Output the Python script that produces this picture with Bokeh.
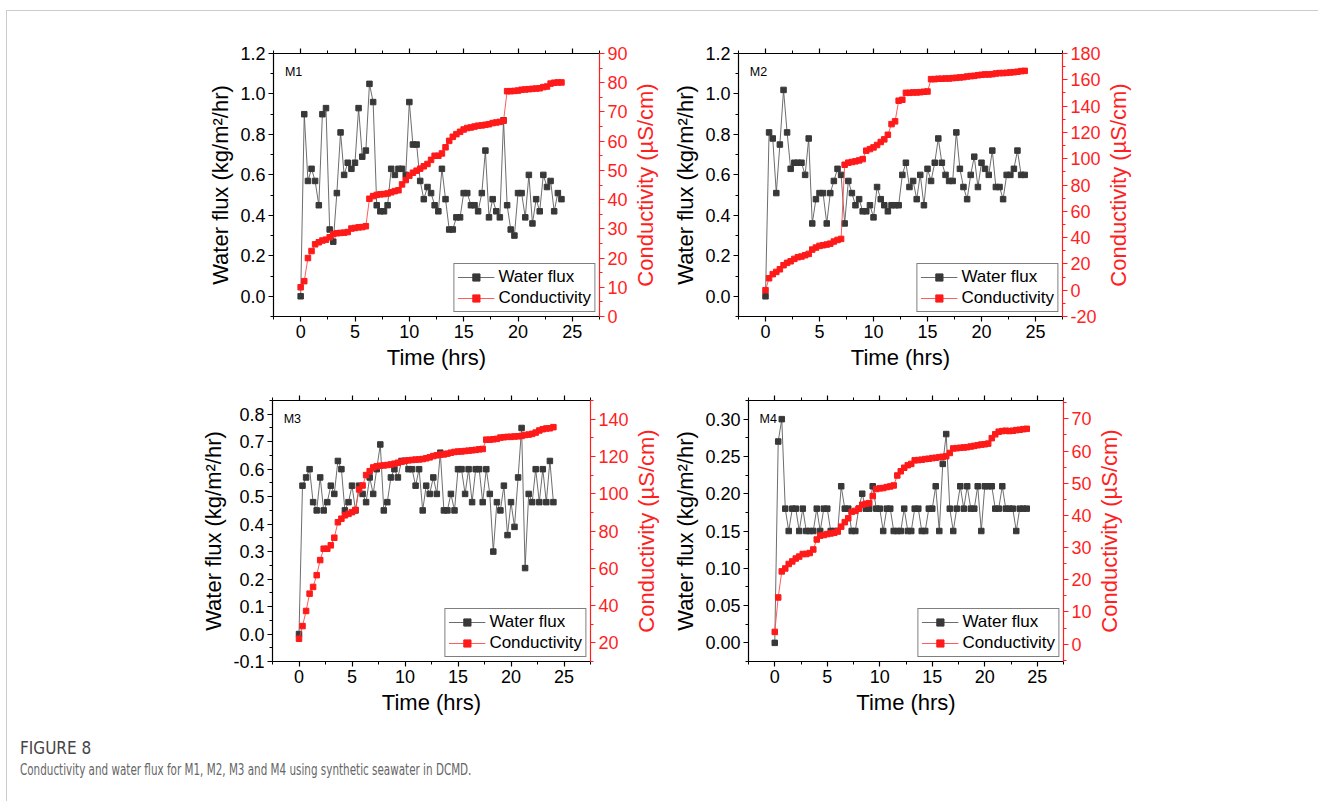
import math
from bokeh.plotting import figure
from bokeh.models import (Range1d, LinearAxis, FixedTicker, PrintfTickFormatter,
                          Legend, LegendItem, Label, Div, Title)
from bokeh.layouts import column, row
from bokeh.embed import file_html
from bokeh.resources import INLINE

# ---------------- data ----------------
time_hrs = [0.00, 0.33, 0.67, 1.00, 1.33, 1.67, 2.00, 2.33, 2.67, 3.00, 3.33, 3.67,
            4.00, 4.33, 4.67, 5.00, 5.33, 5.67, 6.00, 6.33, 6.67, 7.00, 7.33, 7.67,
            8.00, 8.33, 8.67, 9.00, 9.33, 9.67, 10.00, 10.33, 10.67, 11.00, 11.33, 11.67,
            12.00, 12.33, 12.67, 13.00, 13.33, 13.67, 14.00, 14.33, 14.67, 15.00, 15.33, 15.67,
            16.00, 16.33, 16.67, 17.00, 17.33, 17.67, 18.00, 18.33, 18.67, 19.00, 19.33, 19.67,
            20.00, 20.33, 20.67, 21.00, 21.33, 21.67, 22.00, 22.33, 22.67, 23.00, 23.33, 23.67,
            24.00]

m1_flux = [0.00, 0.90, 0.57, 0.63, 0.57, 0.45, 0.90, 0.93, 0.33, 0.27, 0.51, 0.81, 0.60,
           0.66, 0.63, 0.66, 0.93, 0.69, 0.72, 1.05, 0.96, 0.45, 0.42, 0.42, 0.45, 0.63,
           0.60, 0.63, 0.63, 0.60, 0.96, 0.75, 0.75, 0.57, 0.48, 0.54, 0.51, 0.45, 0.42,
           0.63, 0.48, 0.33, 0.33, 0.39, 0.39, 0.51, 0.51, 0.45, 0.45, 0.42, 0.51, 0.72,
           0.39, 0.48, 0.42, 0.39, 0.87, 0.45, 0.33, 0.30, 0.51, 0.51, 0.39, 0.60, 0.36,
           0.48, 0.42, 0.60, 0.54, 0.57, 0.42, 0.51, 0.48]
m1_cond = [10.0, 12.1, 20.0, 22.4, 24.7, 25.4, 26.0, 26.3, 27.1, 28.2, 28.5, 28.6, 28.7,
           28.9, 30.1, 30.3, 30.5, 30.6, 30.9, 40.3, 41.2, 41.6, 41.8, 41.9, 42.1, 42.5,
           42.9, 43.2, 45.2, 46.7, 48.2, 49.2, 49.9, 50.6, 51.4, 52.2, 53.6, 55.0, 55.0,
           55.8, 57.9, 60.1, 61.5, 62.4, 63.2, 64.0, 64.5, 64.7, 65.0, 65.3, 65.4, 65.6,
           65.8, 66.2, 66.4, 66.6, 67.0, 77.1, 77.1, 77.2, 77.3, 77.6, 77.7, 77.8, 77.9,
           78.0, 78.1, 78.5, 78.7, 79.7, 80.0, 80.1, 80.1]

m2_flux = [0.00, 0.81, 0.78, 0.51, 0.75, 1.02, 0.81, 0.63, 0.66, 0.66, 0.66, 0.60, 0.78,
           0.36, 0.48, 0.51, 0.51, 0.36, 0.51, 0.57, 0.63, 0.60, 0.36, 0.57, 0.51, 0.45,
           0.48, 0.42, 0.42, 0.45, 0.39, 0.54, 0.48, 0.45, 0.42, 0.45, 0.45, 0.45, 0.60,
           0.66, 0.54, 0.57, 0.48, 0.60, 0.45, 0.63, 0.57, 0.66, 0.78, 0.66, 0.60, 0.57,
           0.57, 0.81, 0.63, 0.54, 0.48, 0.60, 0.69, 0.54, 0.66, 0.63, 0.60, 0.72, 0.54,
           0.54, 0.48, 0.60, 0.60, 0.63, 0.72, 0.60, 0.60]
m2_cond = [0.0, 9.1, 12.2, 13.9, 15.9, 19.0, 20.8, 22.0, 23.8, 25.1, 25.6, 26.6, 27.6,
           30.9, 32.4, 33.7, 34.2, 34.7, 35.4, 37.0, 38.2, 39.0, 95.4, 97.0, 97.5, 98.0,
           98.7, 99.7, 106.1, 107.3, 108.6, 110.4, 112.7, 114.7, 118.2, 126.3, 128.4,
           144.1, 144.8, 150.1, 150.1, 150.4, 150.4, 150.6, 150.9, 151.1, 160.5, 160.5,
           160.8, 160.8, 161.0, 161.0, 161.3, 161.5, 161.8, 162.0, 162.5, 162.8, 163.0,
           163.5, 163.8, 164.1, 164.1, 164.3, 164.8, 165.1, 165.1, 165.3, 165.6, 165.8,
           166.1, 166.6, 166.8]

m3_flux = [0.00, 0.54, 0.57, 0.60, 0.48, 0.45, 0.57, 0.45, 0.48, 0.54, 0.51, 0.63, 0.60,
           0.45, 0.48, 0.54, 0.45, 0.54, 0.51, 0.48, 0.57, 0.51, 0.60, 0.69, 0.45, 0.48,
           0.57, 0.60, 0.57, 0.63, 0.63, 0.60, 0.60, 0.54, 0.60, 0.45, 0.54, 0.51, 0.57,
           0.51, 0.66, 0.45, 0.45, 0.51, 0.45, 0.60, 0.60, 0.51, 0.60, 0.48, 0.60, 0.60,
           0.48, 0.60, 0.51, 0.30, 0.48, 0.45, 0.54, 0.36, 0.48, 0.39, 0.57, 0.75, 0.24,
           0.51, 0.48, 0.60, 0.48, 0.60, 0.48, 0.63, 0.48]
m3_cond = [22.2, 29.0, 37.1, 46.4, 50.0, 56.3, 64.4, 70.5, 70.5, 72.3, 76.4, 84.7, 86.6,
           88.4, 89.2, 90.1, 91.3, 102.3, 104.4, 110.0, 112.1, 114.1, 114.7, 115.0, 115.2,
           115.4, 115.7, 116.1, 116.6, 117.2, 117.7, 117.9, 118.1, 118.3, 118.4, 118.6,
           119.0, 119.5, 120.2, 120.6, 121.0, 121.1, 121.5, 122.0, 122.4, 122.6, 122.7,
           122.9, 123.1, 123.3, 123.5, 123.8, 124.0, 129.0, 129.0, 129.2, 129.4, 130.1,
           130.3, 130.5, 130.5, 130.7, 130.8, 131.0, 131.5, 131.7, 132.1, 132.8, 133.9,
           134.6, 135.0, 135.1, 135.7]

m4_flux = [0.00, 0.27, 0.30, 0.18, 0.15, 0.18, 0.18, 0.15, 0.18, 0.15, 0.15, 0.15, 0.18,
           0.15, 0.18, 0.18, 0.15, 0.15, 0.15, 0.21, 0.18, 0.18, 0.15, 0.15, 0.18, 0.20,
           0.18, 0.18, 0.21, 0.18, 0.18, 0.15, 0.18, 0.18, 0.15, 0.15, 0.15, 0.18, 0.15,
           0.15, 0.18, 0.18, 0.15, 0.15, 0.18, 0.18, 0.21, 0.15, 0.24, 0.28, 0.18, 0.15,
           0.18, 0.21, 0.18, 0.21, 0.18, 0.18, 0.21, 0.15, 0.21, 0.21, 0.21, 0.18, 0.18,
           0.21, 0.18, 0.18, 0.18, 0.15, 0.18, 0.18, 0.18]
m4_cond = [3.8, 14.5, 22.6, 23.5, 24.9, 25.7, 26.6, 27.2, 28.0, 28.0, 28.3, 29.4, 32.5,
           33.7, 33.9, 34.2, 34.4, 34.6, 35.0, 36.5, 37.9, 39.1, 41.1, 41.4, 42.1, 43.3,
           43.6, 43.8, 46.0, 48.2, 48.4, 48.5, 48.8, 49.0, 49.3, 52.4, 53.7, 54.8, 55.6,
           56.0, 57.1, 57.2, 57.3, 57.5, 57.6, 57.8, 57.9, 58.1, 58.2, 58.4, 59.4, 60.8,
           60.9, 61.0, 61.1, 61.2, 61.4, 61.6, 61.8, 62.0, 62.1, 62.3, 64.0, 65.2, 66.0,
           66.2, 66.3, 66.2, 66.3, 66.5, 66.6, 66.8, 66.9]

# tick labels
x_ticks = [0, 5, 10, 15, 20, 25]
flux_ticks_12 = [0.0, 0.2, 0.4, 0.6, 0.8, 1.0, 1.2]
flux_ticks_m3 = [-0.1, 0.0, 0.1, 0.2, 0.3, 0.4, 0.5, 0.6, 0.7, 0.8]
flux_ticks_m4 = [0.00, 0.05, 0.10, 0.15, 0.20, 0.25, 0.30]
cond_ticks_m1 = [0, 10, 20, 30, 40, 50, 60, 70, 80, 90]
cond_ticks_m2 = [-20, 0, 20, 40, 60, 80, 100, 120, 140, 160, 180]
cond_ticks_m3 = [20, 40, 60, 80, 100, 120, 140]
cond_ticks_m4 = [0, 10, 20, 30, 40, 50, 60, 70]

# ---------------- styling ----------------
FONT = "Liberation Sans"
BLACK = "#000000"
RED = "#ff1f1f"
X_RANGE = (-2.5, 27.5)
R_TITLE = "Conductivity (µS/cm)"


def minors(ticks, lo, hi):
    step = ticks[1] - ticks[0]
    out = []
    v = ticks[0] - step / 2.0
    while v >= lo - 1e-9:
        out.append(v)
        v -= step
    v = ticks[0] + step / 2.0
    while v <= hi + 1e-9:
        out.append(v)
        v += step
    return sorted(out)


def style_axis(ax, color, title=None):
    ax.axis_line_color = color
    ax.axis_line_width = 1.2
    ax.major_tick_line_color = color
    ax.minor_tick_line_color = color
    ax.major_tick_line_width = 1.2
    ax.minor_tick_line_width = 1
    ax.major_tick_out = 5
    ax.major_tick_in = 0
    ax.minor_tick_out = 3
    ax.minor_tick_in = 0
    ax.major_label_text_font = FONT
    ax.major_label_text_font_size = "18px"
    ax.major_label_text_color = color
    ax.major_label_standoff = 3
    if title is not None:
        ax.axis_label = title
        ax.axis_label_text_font = FONT
        ax.axis_label_text_font_size = "22px"
        ax.axis_label_text_font_style = "normal"
        ax.axis_label_text_color = color
        ax.axis_label_standoff = 4


def title_strip(width, height, bt, bb, shift_up):
    """Narrow companion holding the right-hand axis title, reading bottom-to-top."""
    t = figure(width=width, height=height, output_backend="svg", toolbar_location=None,
               x_axis_type=None, y_axis_type=None, title=None,
               min_border_left=0, min_border_right=0, min_border_top=bt, min_border_bottom=bb)
    t.outline_line_color = None
    t.background_fill_color = "white"
    t.border_fill_color = "white"
    t.add_layout(Title(text=R_TITLE, align="center", offset=shift_up,
                       text_font=FONT, text_font_size="22px",
                       text_font_style="normal", text_color=RED, standoff=0), "left")
    return t


def panel(name, flux, cond, y_rng, y_ticks, y_fmt, r_rng, r_ticks,
          width, height, bl, br, bt, bb):
    p = figure(width=width, height=height, output_backend="svg", toolbar_location=None,
               x_range=Range1d(*X_RANGE), y_range=Range1d(*y_rng),
               x_axis_type=None, y_axis_type=None,
               min_border_left=bl, min_border_right=br,
               min_border_top=bt, min_border_bottom=bb)
    p.outline_line_color = None
    p.background_fill_color = "white"
    p.border_fill_color = "white"
    p.extra_y_ranges = {"cond": Range1d(*r_rng)}

    x_minor = minors(x_ticks, X_RANGE[0], X_RANGE[1])
    bottom = LinearAxis(ticker=FixedTicker(ticks=x_ticks, minor_ticks=x_minor))
    style_axis(bottom, BLACK, "Time (hrs)")
    p.add_layout(bottom, "below")

    top = LinearAxis(ticker=FixedTicker(ticks=x_ticks, minor_ticks=x_minor))
    style_axis(top, BLACK)
    top.major_label_text_font_size = "1px"
    top.major_label_text_color = None
    top.major_label_standoff = 0
    p.add_layout(top, "above")

    left = LinearAxis(ticker=FixedTicker(ticks=y_ticks,
                                         minor_ticks=minors(y_ticks, y_rng[0], y_rng[1])),
                      formatter=PrintfTickFormatter(format=y_fmt))
    style_axis(left, BLACK, "Water flux (kg/m²/hr)")
    p.add_layout(left, "left")

    right = LinearAxis(y_range_name="cond",
                       ticker=FixedTicker(ticks=r_ticks,
                                          minor_ticks=minors(r_ticks, r_rng[0], r_rng[1])),
                       formatter=PrintfTickFormatter(format="%d"))
    style_axis(right, RED)
    p.add_layout(right, "right")

    l1 = p.line(time_hrs, flux, line_color="#5c5c5c", line_width=0.9)
    s1 = p.scatter(time_hrs, flux, marker="square", size=5.5,
                   fill_color="#383838", line_color="#383838")
    l2 = p.line(time_hrs, cond, y_range_name="cond", line_color="#ff4a4a", line_width=0.9)
    s2 = p.scatter(time_hrs, cond, y_range_name="cond", marker="square", size=5.5,
                   fill_color="#ff1a1a", line_color="#ff1a1a")

    legend = Legend(items=[LegendItem(label="Water flux", renderers=[l1, s1]),
                           LegendItem(label="Conductivity", renderers=[l2, s2])],
                    location="bottom_right", margin=4, padding=3, spacing=1,
                    label_text_font=FONT, label_text_font_size="17px",
                    label_text_color="black", label_standoff=4,
                    glyph_width=37, glyph_height=18, label_height=18,
                    border_line_color="black", border_line_width=1,
                    background_fill_color="white", background_fill_alpha=1.0)
    p.add_layout(legend)

    lx = X_RANGE[0] + 0.035 * (X_RANGE[1] - X_RANGE[0])
    ly = y_rng[1] - 0.07 * (y_rng[1] - y_rng[0])
    p.add_layout(Label(x=lx, y=ly, text=name, text_font=FONT, text_font_size="12.5px",
                       text_color="black", text_baseline="middle", text_align="left"))
    return p


TOTAL_W = 1311
p1 = panel("M1", m1_flux, m1_cond, (-0.1, 1.2), flux_ticks_12, "%.1f", (0, 90), cond_ticks_m1,
           width=623, height=375, bl=266, br=30, bt=42, bb=70)
t1 = title_strip(663 - 623, 375, 42, 70, 9)
p2 = panel("M2", m2_flux, m2_cond, (-0.1, 1.2), flux_ticks_12, "%.1f", (-20, 180), cond_ticks_m2,
           width=433, height=375, bl=68, br=38, bt=42, bb=70)
t2 = title_strip(TOTAL_W - 663 - 433, 375, 42, 70, 5)
p3 = panel("M3", m3_flux, m3_cond, (-0.1, 0.85), flux_ticks_m3, "%.1f", (10, 150), cond_ticks_m3,
           width=624, height=335, bl=265, br=37, bt=14, bb=60)
t3 = title_strip(663 - 624, 335, 14, 60, 0)
p4 = panel("M4", m4_flux, m4_cond, (-0.025, 0.325), flux_ticks_m4, "%.2f", (-5.4, 75.7), cond_ticks_m4,
           width=424, height=335, bl=74, br=28, bt=14, bb=60)
t4 = title_strip(TOTAL_W - 663 - 424, 335, 14, 60, 6)

caption = Div(
    text=("<div style=\"font-family:'DejaVu Sans Condensed','DejaVu Sans',sans-serif;"
          "padding-left:8px;padding-top:10px;\">"
          "<div style='font-size:17px;font-weight:normal;color:#454545;'>FIGURE 8</div>"
          "<div style='font-size:15px;color:#666666;margin-top:0px;white-space:nowrap;"
          "display:inline-block;transform:scaleX(0.77);transform-origin:0 0;'>"
          "Conductivity and water flux for M1, M2, M3 and M4 using synthetic seawater in DCMD."
          "</div></div>"),
    width=1200, height=80)

layout = column(row(p1, t1, p2, t2), row(p3, t3, p4, t4), caption,
                margin=(10, 0, 0, 6),
                styles={"border-top": "1px solid #cccccc", "border-left": "1px solid #cccccc"})

with open("out.html", "w") as f:
    f.write(file_html(layout, INLINE))
